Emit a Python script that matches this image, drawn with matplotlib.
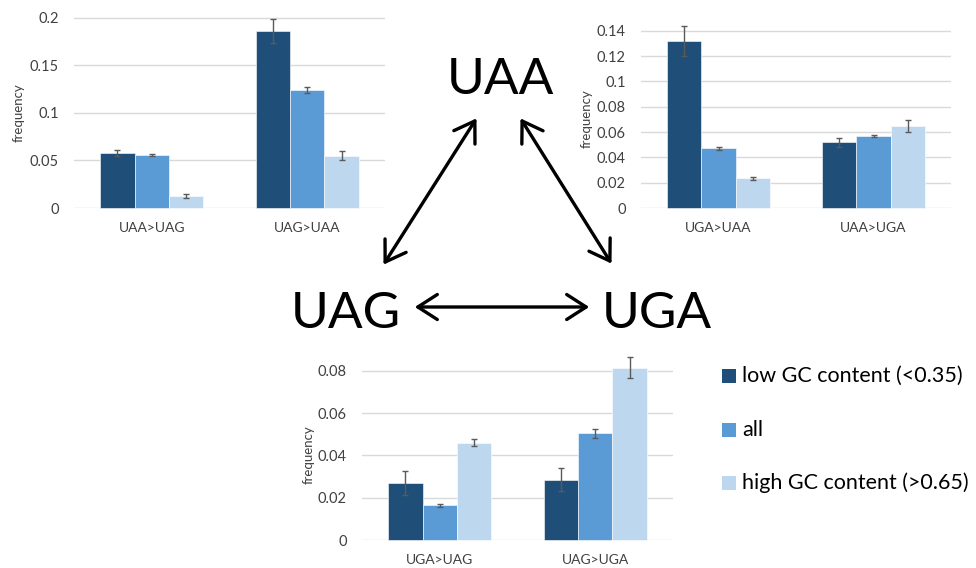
import numpy as np
import matplotlib
matplotlib.use('Agg')
import matplotlib.pyplot as plt
from matplotlib.patches import Rectangle, FancyArrowPatch
from matplotlib.ticker import MultipleLocator, FuncFormatter

plt.rcParams['font.family'] = ['Lato', 'DejaVu Sans']

# stop codon substitution frequencies, three GC-content classes
series_names = ['low GC content (<0.35)', 'all', 'high GC content (>0.65)']
series_colors = ['#1F4E79', '#5B9BD5', '#BDD7EE']

cats_uaa_uag = ['UAA>UAG', 'UAG>UAA']
low_uaa_uag = [0.058, 0.186]
all_uaa_uag = [0.056, 0.124]
high_uaa_uag = [0.013, 0.055]
low_uaa_uag_err = [0.0035, 0.0125]
all_uaa_uag_err = [0.001, 0.0035]
high_uaa_uag_err = [0.002, 0.0045]

cats_uga_uaa = ['UGA>UAA', 'UAA>UGA']
low_uga_uaa = [0.132, 0.052]
all_uga_uaa = [0.047, 0.057]
high_uga_uaa = [0.0235, 0.065]
low_uga_uaa_err = [0.0116, 0.0035]
all_uga_uaa_err = [0.001, 0.001]
high_uga_uaa_err = [0.001, 0.0047]

cats_uga_uag = ['UGA>UAG', 'UAG>UGA']
low_uga_uag = [0.027, 0.0285]
all_uga_uag = [0.0165, 0.0505]
high_uga_uag = [0.046, 0.0815]
low_uga_uag_err = [0.0056, 0.0055]
all_uga_uag_err = [0.0007, 0.0021]
high_uga_uag_err = [0.0017, 0.0049]

W, H = 976, 568
fig = plt.figure(figsize=(W / 100, H / 100), dpi=100)


def px_rect(x0, y0, x1, y1):
    # pixel box (top-left origin) -> figure fraction rect
    return [x0 / W, 1 - y1 / H, (x1 - x0) / W, (y1 - y0) / H]


def px(x, y):
    return (x / W, 1 - y / H)


def bar_panel(rect, cats, vals, errs, ymax, step, ylabel_x):
    ax = fig.add_axes(rect)
    x = np.arange(len(cats))
    bw = 0.221
    for i, (v, e) in enumerate(zip(vals, errs)):
        bars = ax.bar(x + (i - 1) * bw, v, bw, color=series_colors[i],
                      edgecolor='white', linewidth=0.4, zorder=2)
        for b in bars:
            b.set_clip_on(False)
        eb = ax.errorbar(x + (i - 1) * bw, v, yerr=e, fmt='none',
                         ecolor='#5a5a5a', elinewidth=1, capsize=2.5,
                         capthick=1, zorder=3)
        for part in eb.lines:
            for artist in (part if isinstance(part, tuple) else [part]):
                if artist is not None:
                    artist.set_clip_on(False)
    ax.set_xlim(-0.5, len(cats) - 0.5)
    ax.set_ylim(0, ymax * 1.004)
    ax.yaxis.set_major_locator(MultipleLocator(step))
    ax.yaxis.set_major_formatter(FuncFormatter(lambda v, p: '%g' % round(v, 4)))
    ax.set_xticks(x)
    ax.set_xticklabels(cats)
    ax.tick_params(axis='both', length=0, labelsize=10.5)
    ax.tick_params(axis='y', pad=11)
    ax.tick_params(axis='x', pad=10, labelsize=10)
    for lab in ax.get_yticklabels() + ax.get_xticklabels():
        lab.set_color('#404040')
    ax.grid(axis='y', color='#D9D9D9', linewidth=1, zorder=0)
    ax.set_axisbelow(True)
    for s in ax.spines.values():
        s.set_visible(False)
    ax.set_ylabel('frequency', fontsize=9.5, color='#404040')
    ax.yaxis.set_label_coords((ylabel_x + 7 - rect[0] * W) / (rect[2] * W), 0.5)
    return ax


bar_panel(px_rect(74, 17, 385, 208), cats_uaa_uag,
          [low_uaa_uag, all_uaa_uag, high_uaa_uag],
          [low_uaa_uag_err, all_uaa_uag_err, high_uaa_uag_err],
          0.2, 0.05, 18)
bar_panel(px_rect(641, 30, 951, 208), cats_uga_uaa,
          [low_uga_uaa, all_uga_uaa, high_uga_uaa],
          [low_uga_uaa_err, all_uga_uaa_err, high_uga_uaa_err],
          0.14, 0.02, 586)
bar_panel(px_rect(362, 370, 673, 540), cats_uga_uag,
          [low_uga_uag, all_uga_uag, high_uga_uag],
          [low_uga_uag_err, all_uga_uag_err, high_uga_uag_err],
          0.08, 0.02, 308)

# codon labels
fig.text(*px(500, 94), 'UAA', fontsize=37, ha='center', va='baseline')
fig.text(*px(346, 328), 'UAG', fontsize=37, ha='center', va='baseline')
fig.text(*px(657, 328), 'UGA', fontsize=37, ha='center', va='baseline')

# double arrows between codons
for a, b in [((382, 267), (478, 116)), ((519, 116), (613, 266)),
             ((412, 307), (592, 307))]:
    arr = FancyArrowPatch(px(*a), px(*b), transform=fig.transFigure,
                          arrowstyle='<->,head_length=0.7,head_width=0.45',
                          mutation_scale=20, lw=2.4, color='black')
    fig.add_artist(arr)

# legend
for i, (name, y) in enumerate(zip(series_names, [376, 430, 483])):
    fig.add_artist(Rectangle(px(722, y + 7), 14 / W, 14 / H,
                             transform=fig.transFigure,
                             facecolor=series_colors[i], edgecolor='none'))
    fig.text(*px(742, y), name, fontsize=15.5, ha='left', va='center',
             color='black')

fig.savefig('out.png', dpi=100)
